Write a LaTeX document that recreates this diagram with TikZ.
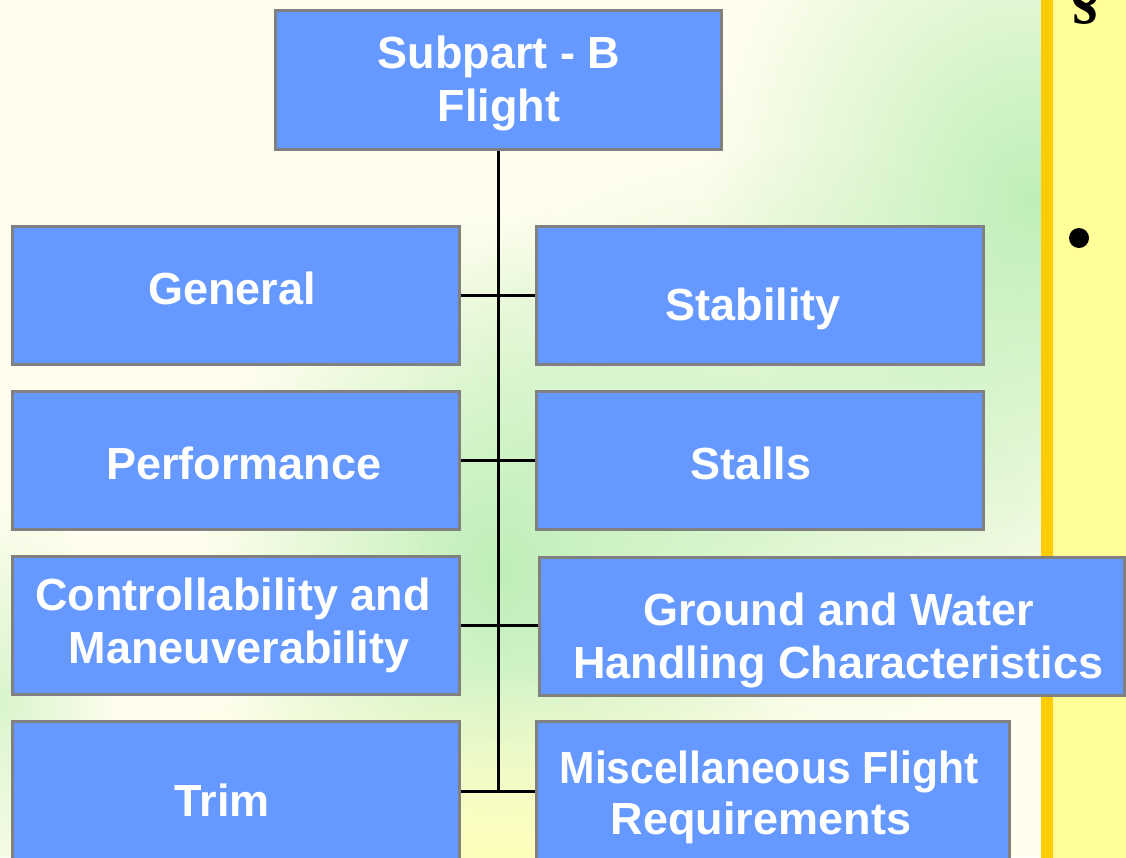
\documentclass[tikz,border=0pt]{standalone}
\usepackage{fontspec}
\usetikzlibrary{fadings}
\setmainfont{Liberation Sans}
\newfontfamily\serifbold{Liberation Serif}
\definecolor{bgcream}{HTML}{FFFEEE}
\definecolor{boxblue}{HTML}{6699FF}
\definecolor{bordergray}{HTML}{808080}
\definecolor{goldbar}{HTML}{FFCC00}
\definecolor{panelyellow}{HTML}{FFFF99}
\definecolor{blobgreen}{HTML}{BFEFB8}
\definecolor{blobyellow}{HTML}{FFFFB8}
\pgfdeclarelayer{backdrop}
\pgfdeclarelayer{wires}
\pgfsetlayers{backdrop,wires,main}
\tikzfading[name=softblob, inner color=transparent!0, outer color=transparent!100]
\begin{document}
\begin{tikzpicture}[x=1pt,y=-1pt,
  box/.style={draw=bordergray, line width=3pt, fill=boxblue, inner sep=0pt, minimum width=447pt, minimum height=138pt},
  lbl/.style={text=white, font=\fontsize{45}{54}\selectfont\bfseries, inner sep=0pt, anchor=base},
  blob/.style={path fading=softblob},
  conn/.style={draw=black, line width=3pt}]
\useasboundingbox (0,0) rectangle (1126,857);
\clip (0,0) rectangle (1126,857);
\begin{pgfonlayer}{backdrop}
\fill[bgcream] (0,0) rectangle (1126,857);
\fill[blobgreen, blob] (500,570) ellipse [x radius=300pt, y radius=360pt];
\fill[blobgreen, blob] (1030,200) ellipse [x radius=320pt, y radius=380pt];
\fill[blobgreen, blob, opacity=0.7] (760,450) ellipse [x radius=360pt, y radius=300pt];
\fill[blobgreen, blob, opacity=0.6] (0,700) ellipse [x radius=120pt, y radius=200pt];
\fill[blobyellow, blob] (500,870) ellipse [x radius=520pt, y radius=200pt];
\fill[goldbar] (1041,-5) rectangle (1053,862);
\fill[panelyellow] (1053,-5) rectangle (1130,862);
\end{pgfonlayer}
\node[font=\serifbold\fontsize{64}{64}\selectfont\bfseries, inner sep=0pt, anchor=base] (sect) at (1085,16) {§};
\fill[black] (1079,238) circle[radius=10pt];
% boxes
\node[box, minimum width=446pt, minimum height=139pt] (top) at (498.5,80) {};
\coordinate (spineend) at (498.5,792);
\node[box] (general) at (235.5,295) {};
\node[box] (stability) at (760,295) {};
\node[box] (performance) at (235.5,460) {};
\node[box] (stalls) at (760,460) {};
\node[box] (control) at (235.5,625.5) {};
\node[box, minimum width=585pt] (ground) at (831.5,626.5) {};
\node[box, minimum height=141pt] (trim) at (235.5,791.5) {};
\node[box, minimum width=473pt, minimum height=141pt] (misc) at (773,791.5) {};
% connectors
\begin{pgfonlayer}{wires}
\draw[conn] (top.south) -- (spineend);
\draw[conn] (general.east) -- (stability.west);
\draw[conn] (performance.east) -- (stalls.west);
\draw[conn] (control.east) -- (control.east -| ground.west);
\draw[conn] (trim.east) -- (misc.west);
\end{pgfonlayer}
% labels
\node[lbl] (t1) at (499,68) {Subpart - B};
\node[lbl] (t2) at (499,121) {Flight};
\node[lbl] (t3) at (232,304) {General};
\node[lbl] (t4) at (753,320) {Stability};
\node[lbl] (t5) at (244,479) {Performance};
\node[lbl] (t6) at (751,479) {Stalls};
\node[lbl] (t7) at (233,610) {Controllability and};
\node[lbl] (t8) at (239,663) {Maneuverability};
\node[lbl] (t9) at (838.5,625) {Ground and Water};
\node[lbl] (t10) at (838.5,678) {Handling Characteristics};
\node[lbl] (t11) at (222,816) {Trim};
\node[lbl] (t12) at (769,783) {\scalebox{0.946}[1]{Miscellaneous Flight}};
\node[lbl] (t13) at (761,834) {Requirements};
\end{tikzpicture}
\end{document}
